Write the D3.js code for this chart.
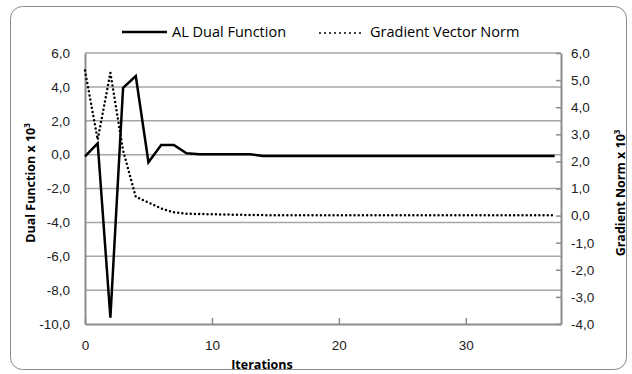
<!DOCTYPE html>
<html>
<head>
<meta charset="utf-8">
<script src="https://cdn.jsdelivr.net/npm/d3@7"></script>
<style>
  body { margin: 0; background: #fff; }
  svg { font-family: "Open Sans", Lato, sans-serif; }
</style>
</head>
<body>
<svg id="chart" width="632" height="374"></svg>
<script>
// iterations 0..37
const iterations = d3.range(0, 38)
// AL dual function x 10^3 (left axis)
const dualValues = [-0.1, 0.67, -9.63, 3.95, 4.64, -0.45, 0.57, 0.57, 0.08, 0.02,
  0.02, 0.02, 0.02, 0.02, -0.08, -0.08, -0.08, -0.08, -0.08, -0.08,
  -0.08, -0.08, -0.08, -0.08, -0.08, -0.08, -0.08, -0.08, -0.08, -0.08,
  -0.08, -0.08, -0.08, -0.08, -0.08, -0.08, -0.08, -0.08]
// gradient vector norm x 10^3 (right axis)
const gradValues = [5.35, 2.8, 5.27, 2.4, 0.69, 0.48, 0.26, 0.12, 0.07, 0.06,
  0.05, 0.04, 0.03, 0.02, 0.02, 0.01, 0.01, 0.01, 0.01, 0.01,
  0.01, 0.01, 0.01, 0.01, 0.01, 0.01, 0.01, 0.01, 0.01, 0.01,
  0.01, 0.01, 0.01, 0.01, 0.01, 0.01, 0.01, 0.01]
const xTicks = [0, 10, 20, 30]
const leftTicks = [6, 4, 2, 0, -2, -4, -6, -8, -10]
const rightTicks = [6, 5, 4, 3, 2, 1, 0, -1, -2, -3, -4]
const seriesNames = ['AL Dual Function', 'Gradient Vector Norm']

const svg = d3.select('#chart')
const m = { left: 85, right: 561, top: 53, bottom: 324 }
const gridColor = '#a6a6a6'
const axisColor = '#8c8c8c'

const loc = d3.formatLocale({ decimal: ',', thousands: '.', grouping: [3], currency: ['', ''], minus: '-' })
const fmt = loc.format('.1f')

const x = d3.scaleLinear().domain([0, 37.5]).range([m.left, m.right])
const yL = d3.scaleLinear().domain([-10, 6]).range([m.bottom, m.top])
const yR = d3.scaleLinear().domain([-4, 6]).range([m.bottom, m.top])

// chart frame
svg.append('rect')
  .attr('x', 10.5).attr('y', 6.5).attr('width', 616).attr('height', 363)
  .attr('rx', 12).attr('fill', '#fff').attr('stroke', '#8a8a8a').attr('stroke-width', 1)

// gridlines
svg.append('g')
  .selectAll('line').data(leftTicks.filter(d => d !== -10)).join('line')
  .attr('x1', m.left).attr('x2', m.right)
  .attr('y1', d => yL(d)).attr('y2', d => yL(d))
  .attr('stroke', gridColor).attr('stroke-width', 1.5)

// left axis
const gLeft = svg.append('g').attr('transform', `translate(${m.left},0)`)
  .call(d3.axisLeft(yL).tickValues(leftTicks).tickFormat(fmt).tickSize(0).tickPadding(15))
gLeft.select('.domain').attr('stroke', axisColor).attr('stroke-width', 2)
gLeft.selectAll('text').attr('font-size', 13.5).attr('fill', '#222')

// right axis
const gRight = svg.append('g').attr('transform', `translate(${m.right},0)`)
  .call(d3.axisRight(yR).tickValues(rightTicks).tickFormat(fmt).tickSizeInner(-5).tickSizeOuter(0).tickPadding(10))
gRight.select('.domain').attr('stroke', axisColor).attr('stroke-width', 2)
gRight.selectAll('.tick line').attr('stroke', axisColor).attr('stroke-width', 1.5)
gRight.selectAll('text').attr('font-size', 13.5).attr('fill', '#222')

// bottom axis
const gBottom = svg.append('g').attr('transform', `translate(0,${m.bottom})`)
  .call(d3.axisBottom(x).tickValues(xTicks).tickFormat(d3.format('d')).tickSizeInner(-6).tickSizeOuter(0).tickPadding(16))
gBottom.select('.domain').attr('stroke', axisColor).attr('stroke-width', 2)
gBottom.selectAll('.tick line').attr('stroke', axisColor).attr('stroke-width', 1.5)
gBottom.selectAll('text').attr('font-size', 13.5).attr('fill', '#222')

// series
const dualLine = d3.line().x((d, i) => x(iterations[i])).y(d => yL(d))
const gradLine = d3.line().x((d, i) => x(iterations[i])).y(d => yR(d))

svg.append('path').datum(gradValues)
  .attr('d', gradLine).attr('fill', 'none').attr('stroke', '#000')
  .attr('stroke-width', 2.5).attr('stroke-linecap', 'round').attr('stroke-dasharray', '0 4.2')

svg.append('path').datum(dualValues)
  .attr('d', dualLine).attr('fill', 'none').attr('stroke', '#000')
  .attr('stroke-width', 2.5).attr('stroke-linejoin', 'miter')

// axis titles
svg.append('text')
  .attr('transform', 'translate(35,183) rotate(-90)')
  .attr('text-anchor', 'middle').attr('font-size', 12.5).attr('font-weight', 'bold')
  .text('Dual Function  x 10')
  .append('tspan').attr('dy', -5).attr('font-size', 8).text('3')

svg.append('text')
  .attr('transform', 'translate(625,193) rotate(-90)')
  .attr('text-anchor', 'middle').attr('font-size', 12.5).attr('font-weight', 'bold')
  .text('Gradient Norm x 10')
  .append('tspan').attr('dy', -5).attr('font-size', 8).text('3')

svg.append('text')
  .attr('x', 262).attr('y', 369)
  .attr('text-anchor', 'middle').attr('font-size', 12.5).attr('font-weight', 'bold')
  .text('Iterations')

// legend
const legend = svg.append('g')
legend.append('line').attr('x1', 122).attr('x2', 167).attr('y1', 32).attr('y2', 32)
  .attr('stroke', '#000').attr('stroke-width', 2.5)
legend.append('text').attr('x', 172).attr('y', 37).attr('font-size', 14.5).text(seriesNames[0])
legend.append('line').attr('x1', 320).attr('x2', 364).attr('y1', 33).attr('y2', 33)
  .attr('stroke', '#000').attr('stroke-width', 2).attr('stroke-linecap', 'round').attr('stroke-dasharray', '0 5')
legend.append('text').attr('x', 370).attr('y', 37).attr('font-size', 14.5).text(seriesNames[1])
</script>
</body>
</html>
